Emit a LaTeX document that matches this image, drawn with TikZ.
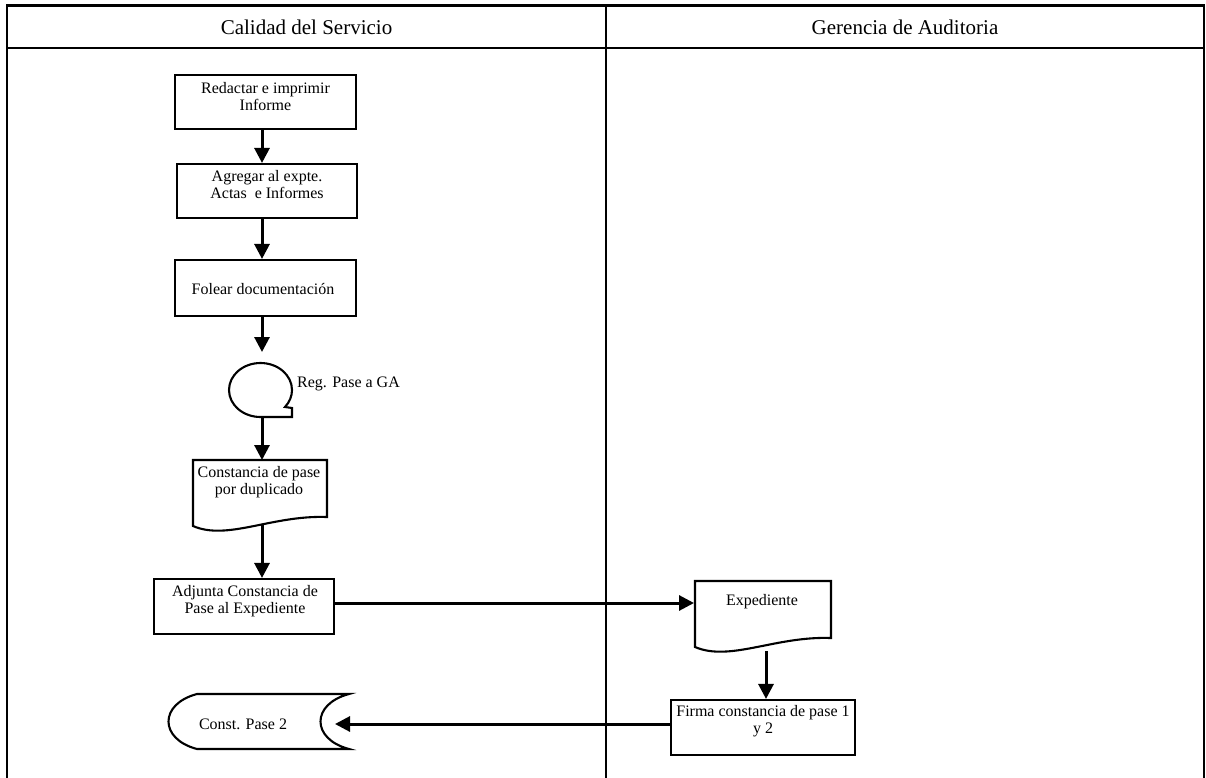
\documentclass[tikz,border=0pt]{standalone}
\usepackage{fontspec}
\setmainfont{Liberation Serif}
\usetikzlibrary{arrows.meta}

\tikzset{
  lane/.style={line width=2.4pt},
  outline/.style={draw, line width=2.1pt},
  stepbox/.style={outline, minimum width=#1, minimum height=55pt, inner sep=0pt},
  txt/.style={font=\fontsize{16}{17.5}\selectfont, align=center, inner sep=0pt},
  head/.style={font=\fontsize{21}{24}\selectfont, inner sep=0pt},
  flow/.style={line width=3pt, -{Triangle[length=15pt,width=15pt]}},
}

\begin{document}
\begin{tikzpicture}[x=1pt,y=-1pt]
  \useasboundingbox (0,0) rectangle (1206,778);

  % swimlane frame
  \draw[lane] (7,778) -- (7,5.5) -- (1204,5.5) -- (1204,778);
  \draw[lane] (7,47.8) -- (1204,47.8);
  \draw[lane] (605.7,5.5) -- (605.7,778);
  \node[head] (lane1) at (306.5,27) {Calidad del Servicio};
  \node[head] (lane2) at (905,27) {Gerencia de Auditoria};

  % guide coordinates for the connectors
  \coordinate (ax) at (262,0);
  \coordinate (bx) at (766,0);
  \coordinate (hy) at (0,603);
  \coordinate (ry) at (0,724);

  % process boxes
  \node[stepbox=181pt, minimum height=54pt] (b1) at (265.5,102) {};
  \node[txt] (b1t) at (265.5,96.5) {Redactar e imprimir\\Informe};
  \node[stepbox=180pt, minimum height=54pt] (b2) at (267,191) {};
  \node[txt] (b2t) at (267,184.5) {Agregar al expte.\\Actas\ \ e Informes};
  \node[stepbox=181pt, minimum height=56pt] (b3) at (265.5,288) {};
  \node[txt] (b3t) at (263,289) {Folear documentación};

  % tape symbol
  \draw[line width=2.1pt] (260.5,417) arc[start angle=90, end angle=399, x radius=31.5, y radius=27]
        -- (292,408) -- (292,417) -- cycle;
  \coordinate (tapein) at (262,352);
  \coordinate (tapeout) at (262,417);
  \node[txt, anchor=west] (tapel) at (297,384) {Reg. Pase a GA};

  % document: Constancia de pase
  \draw[line width=2.1pt] (193,460) -- (327,460) -- (327,517)
        .. controls (271.8,515) and (227.4,541) .. (193,526) -- cycle;
  \node[txt] (d1) at (259,482) {Constancia de pase\\por duplicado};
  \coordinate (d1in) at (262,460);
  \coordinate (d1out) at (262,524);

  \node[stepbox=180pt] (b5) at (244,606.5) {};
  \node[txt] (b5t) at (245,601) {Adjunta Constancia de\\Pase al Expediente};

  % document: Expediente
  \draw[line width=2.1pt] (695,581) -- (831,581) -- (831,638)
        .. controls (775,636) and (730,662) .. (695,647) -- cycle;
  \node[txt] (exp) at (762,602) {Expediente};
  \coordinate (expin) at (694,603);
  \coordinate (expout) at (766,651);

  \node[stepbox=184pt] (b7) at (763,727.5) {};
  \node[txt] (b7t) at (763,721) {Firma constancia de pase 1\\y 2};

  % stored data: Const. Pase 2
  \draw[line width=2.1pt] (197,694) -- (349,694)
        .. controls (311,704) and (311,739) .. (349,749) -- (197,749)
        .. controls (159,739) and (159,704) .. (197,694) -- cycle;
  \node[txt] (cp2) at (243,724) {Const. Pase 2};
  \coordinate (cp2in) at (335,724);

  % connectors
  \draw[flow] (b1.south -| ax) -- (b2.north -| ax);
  \draw[flow] (b2.south -| ax) -- (b3.north -| ax);
  \draw[flow] (b3.south -| ax) -- (tapein);
  \draw[flow] (tapeout) -- (d1in);
  \draw[flow] (d1out) -- (b5.north -| ax);
  \draw[flow] (b5.east |- hy) -- (expin);
  \draw[flow] (expout) -- (b7.north -| bx);
  \draw[flow] (b7.west |- ry) -- (cp2in);
\end{tikzpicture}
\end{document}
